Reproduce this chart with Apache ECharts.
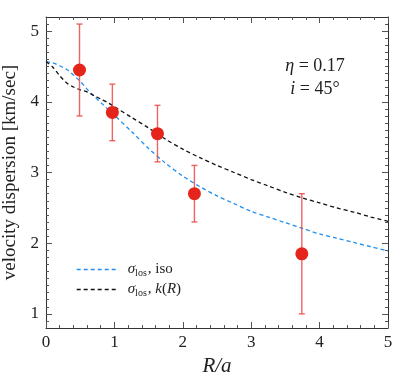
<!DOCTYPE html>
<html lang="en">
  <head>
    <meta charset="UTF-8">
    <title>velocity dispersion</title>
    <style>
      html, body { margin: 0; padding: 0; background: #fff; }
      #chart { width: 415px; height: 374px; }
    </style>
  </head>
  <body>
    <div id="chart"></div>
    <script src="https://cdn.jsdelivr.net/npm/echarts@6/dist/echarts.min.js"></script>
    <script type="text/javascript">
      // observed points with error bars
      var obsR = [0.49, 0.97, 1.63, 2.17, 3.74];
      var obsSigma = [4.45, 3.85, 3.55, 2.70, 1.85];
      var obsLow = [3.80, 3.45, 3.15, 2.30, 1.00];
      var obsHigh = [5.10, 4.25, 3.95, 3.10, 2.70];

      // model curves
      var curveR = [0, 0.1, 0.2, 0.3, 0.4, 0.5, 0.6, 0.7, 0.8, 0.9, 1.0, 1.25, 1.5, 1.75,
                    2.0, 2.25, 2.5, 2.75, 3.0, 3.25, 3.5, 3.75, 4.0, 4.25, 4.5, 4.75, 5.0];
      var isoSigma = [4.57, 4.55, 4.51, 4.46, 4.38, 4.29, 4.18, 4.08, 3.99, 3.90, 3.81, 3.58, 3.34, 3.13,
                      2.95, 2.80, 2.67, 2.56, 2.45, 2.37, 2.29, 2.21, 2.13, 2.07, 2.01, 1.95, 1.89];
      var kSigma = [4.57, 4.49, 4.37, 4.27, 4.21, 4.17, 4.14, 4.09, 4.04, 3.99, 3.93, 3.78, 3.63, 3.47,
                    3.33, 3.21, 3.10, 3.00, 2.90, 2.81, 2.72, 2.64, 2.57, 2.50, 2.44, 2.37, 2.31];

      // axis ticks
      var yMajor = [1, 2, 3, 4, 5];
      var yMinor = [];
      for (var t = 9; t <= 51; t++) {
        yMinor.push(t / 10);
      }

      var serif = 'Liberation Serif';
      var frame = '#333';

      var myChart = echarts.init(document.getElementById('chart'), null, { renderer: 'canvas' });

      function pairs(xs, ys) {
        return xs.map(function (x, i) { return [x, ys[i]]; });
      }

      function yAx(pos, major) {
        return {
          type: 'value',
          position: pos,
          min: 0.8,
          max: 5.2,
          axisLine: { show: major, lineStyle: { color: frame, width: 1 } },
          axisTick: {
            show: true, inside: true, length: major ? 6 : 3,
            customValues: major ? yMajor : yMinor,
            lineStyle: { color: '#555', width: 1 }
          },
          axisLabel: { show: false },
          splitLine: { show: false }
        };
      }

      function xAx(pos) {
        return {
          type: 'value',
          position: pos,
          min: 0,
          max: 5,
          interval: 1,
          axisLine: { show: true, lineStyle: { color: frame, width: 1 } },
          axisTick: { show: true, inside: true, length: 6, lineStyle: { color: '#555', width: 1 } },
          minorTick: { show: true, splitNumber: 5, length: 3, lineStyle: { color: '#555', width: 1 } },
          axisLabel: { show: false },
          splitLine: { show: false },
          minorSplitLine: { show: false }
        };
      }

      var yLeft = yAx('left', true);
      yLeft.axisLabel = {
        show: true, customValues: yMajor, margin: 7,
        color: '#222', fontFamily: serif, fontSize: 17
      };
      yLeft.name = 'velocity dispersion [km/sec]';
      yLeft.nameLocation = 'middle';
      yLeft.nameGap = 25;
      yLeft.nameTextStyle = { color: '#222', fontFamily: serif, fontSize: 19 };

      var xBottom = xAx('bottom');
      xBottom.axisLabel = { show: true, margin: 6, color: '#222', fontFamily: serif, fontSize: 17 };
      xBottom.name = 'R/a';
      xBottom.nameLocation = 'middle';
      xBottom.nameGap = 27;
      xBottom.nameTextStyle = { color: '#222', fontFamily: serif, fontSize: 21, fontStyle: 'italic' };

      var legendRich = {
        g: { fontFamily: serif, fontSize: 15, fontStyle: 'italic', color: '#222', padding: [0, 0, 0, 4] },
        sub: { fontFamily: serif, fontSize: 10, color: '#222', padding: [7, 1, 0, 0] },
        it: { fontFamily: serif, fontSize: 15, fontStyle: 'italic', color: '#222' },
        n: { fontFamily: serif, fontSize: 15, color: '#222' }
      };

      var option = {
        backgroundColor: '#fff',
        animation: false,
        grid: { left: 46, right: 27, top: 17, bottom: 46, outerBoundsMode: 'none' },
        legend: {
          orient: 'vertical',
          left: 71,
          top: 257,
          itemWidth: 42,
          itemHeight: 12,
          itemGap: 4,
          selectedMode: false,
          itemStyle: { opacity: 0 },
          lineStyle: { width: 1.4 },
          data: ['iso', 'kR'],
          formatter: function (name) {
            if (name === 'iso') {
              return '{g|σ}{sub|los}{n|, iso}';
            }
            return '{g|σ}{sub|los}{n|, }{it|k}{n|(}{it|R}{n|)}';
          },
          textStyle: { fontFamily: serif, fontSize: 15, color: '#222', rich: legendRich }
        },
        graphic: [{
          type: 'text',
          x: 315,
          y: 66,
          style: {
            text: '{it|η} = 0.17',
            rich: { it: { fontStyle: 'italic', fontFamily: serif, fontSize: 18 } },
            fontFamily: serif, fontSize: 18, fill: '#222',
            align: 'center', verticalAlign: 'middle'
          }
        }, {
          type: 'text',
          x: 315,
          y: 89,
          style: {
            text: '{it|i} = 45°',
            rich: { it: { fontStyle: 'italic', fontFamily: serif, fontSize: 18 } },
            fontFamily: serif, fontSize: 18, fill: '#222',
            align: 'center', verticalAlign: 'middle'
          }
        }],
        xAxis: [xBottom, xAx('top')],
        yAxis: [yLeft, yAx('left', false), yAx('right', true), yAx('right', false)],
        series: [{
          name: 'iso',
          type: 'line',
          data: pairs(curveR, isoSigma),
          smooth: 0.3,
          showSymbol: false,
          symbol: 'none',
          color: '#1f8ff0',
          lineStyle: { color: '#1f8ff0', width: 1.3, type: [4, 3] },
          z: 2
        }, {
          name: 'kR',
          type: 'line',
          data: pairs(curveR, kSigma),
          smooth: 0.3,
          showSymbol: false,
          symbol: 'none',
          color: '#111',
          lineStyle: { color: '#111', width: 1.3, type: [4, 3] },
          z: 2
        }, {
          name: 'errors',
          type: 'custom',
          data: obsR.map(function (r, i) { return [r, obsLow[i], obsHigh[i]]; }),
          encode: { x: 0, y: [1, 2] },
          renderItem: function (params, api) {
            var lo = api.coord([api.value(0), api.value(1)]);
            var hi = api.coord([api.value(0), api.value(2)]);
            var st = { stroke: '#ea4a45', lineWidth: 1.4, opacity: 0.85 };
            return {
              type: 'group',
              children: [
                { type: 'line', shape: { x1: lo[0], y1: lo[1], x2: hi[0], y2: hi[1] }, style: st },
                { type: 'line', shape: { x1: lo[0] - 3, y1: lo[1], x2: lo[0] + 3, y2: lo[1] }, style: st },
                { type: 'line', shape: { x1: hi[0] - 3, y1: hi[1], x2: hi[0] + 3, y2: hi[1] }, style: st }
              ]
            };
          },
          z: 3
        }, {
          name: 'obs',
          type: 'scatter',
          data: pairs(obsR, obsSigma),
          symbolSize: 13,
          itemStyle: { color: '#e5241b', opacity: 1 },
          z: 4
        }]
      };

      myChart.setOption(option);
    </script>
  </body>
</html>
